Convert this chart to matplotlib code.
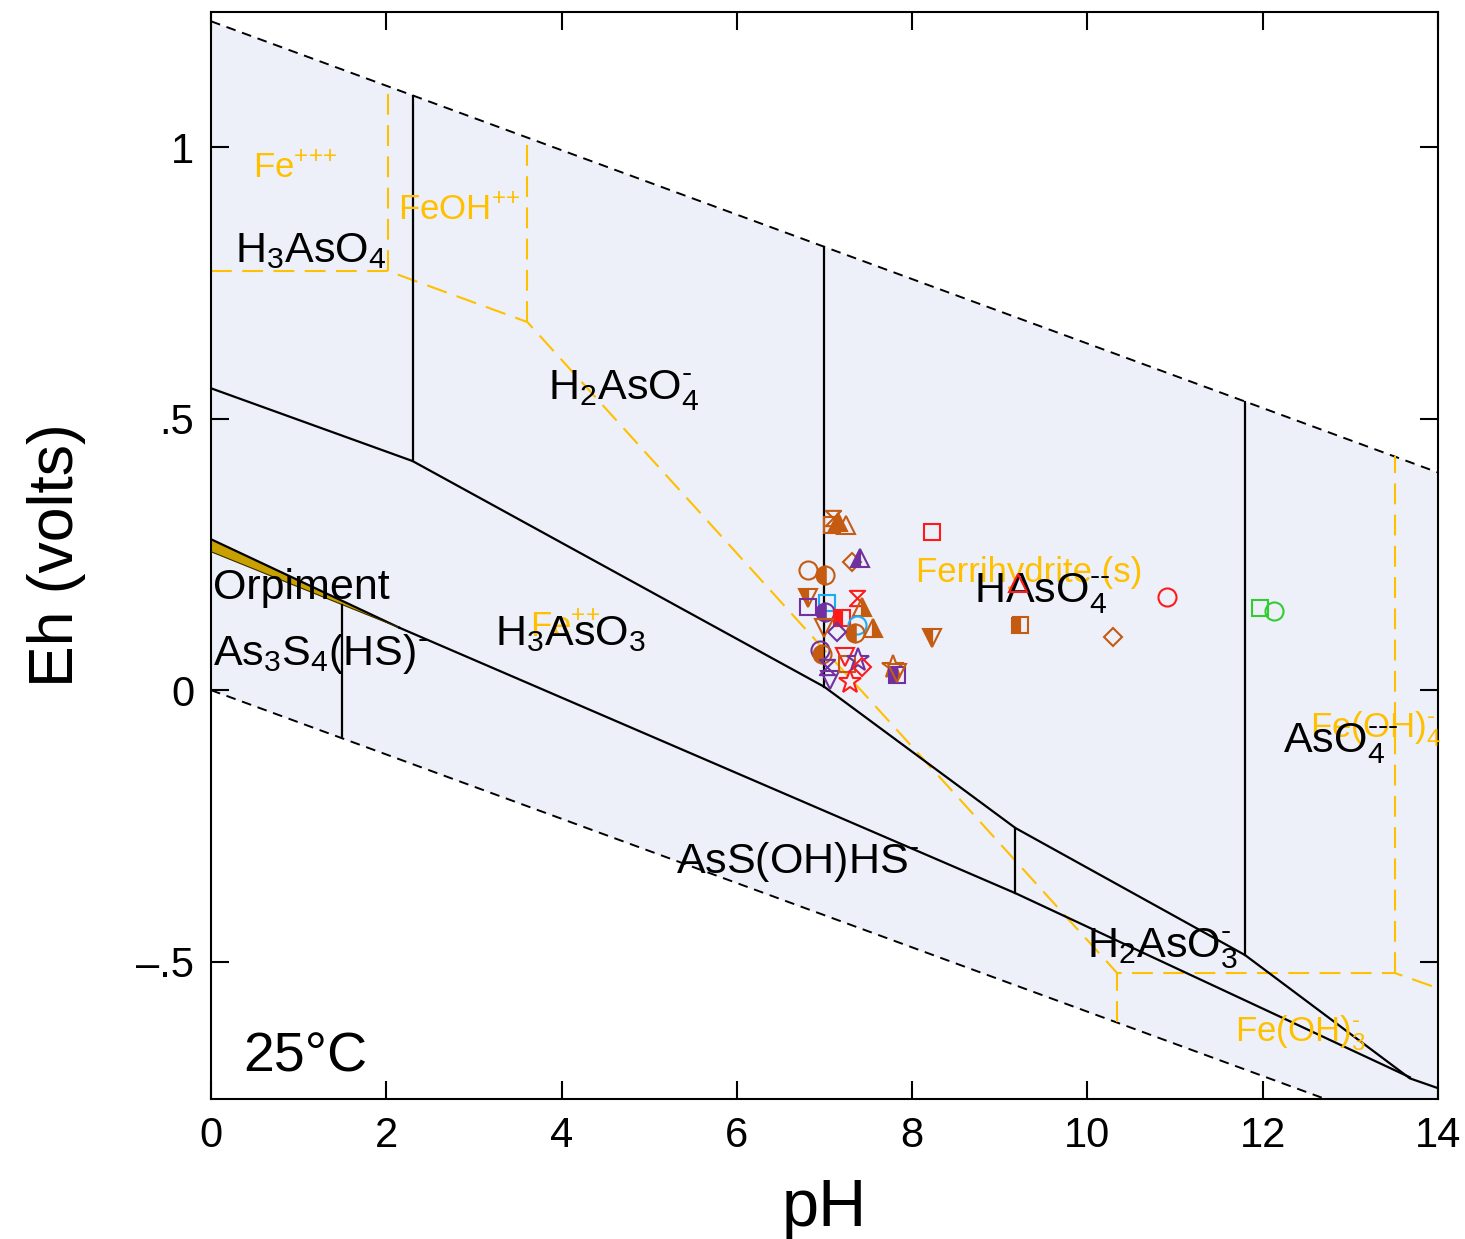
import numpy as np
import matplotlib.pyplot as plt
from matplotlib.path import Path

plt.rcParams['font.family'] = ['Liberation Sans', 'DejaVu Sans']

# ---- diagram boundaries (pH, Eh in volts) ----
water_top_ph = [0, 14]
water_top_eh = [1.232, 0.401]
water_bot_ph = [0, 14]
water_bot_eh = [0.0, -0.829]

# As(V) / As(III) boundary
asv_ph = [0, 2.30, 7.00, 9.18, 11.80, 13.68, 14.0]
asv_eh = [0.556, 0.422, 0.006, -0.254, -0.488, -0.715, -0.733]
# As(III) / sulfide boundary
sulf_ph = [2.15, 9.18, 13.68]
sulf_eh = [0.115, -0.374, -0.713]
# Orpiment wedge
orp_ph = [0, 2.15]
orp_top_eh = [0.278, 0.115]
orp_bot_eh = [0.255, 0.115]
# vertical arsenic boundaries: (pH, Eh low, Eh high)
as_vert = [(2.30, 0.422, 1.094), (7.00, 0.006, 0.816),
           (11.80, -0.488, 0.531), (9.18, -0.374, -0.254),
           (1.50, -0.089, 0.157)]

# iron boundaries (dashed gold)
fe_ph = [0, 2.02, 3.61, 10.34, 13.51, 14.0]
fe_eh = [0.772, 0.772, 0.678, -0.521, -0.521, -0.549]
fe_vert = [(2.02, 0.772, 1.110), (3.61, 0.678, 1.016),
           (10.34, -0.612, -0.521), (13.51, -0.521, 0.431)]

# ---- sample points ----
sample_ph = [7.10, 7.09, 7.15, 7.25, 7.31, 7.41, 6.81, 7.01, 6.81, 6.81,
             7.03, 7.01, 7.20, 7.37, 7.43, 7.37, 7.35, 7.55, 7.14, 7.00,
             6.95, 6.97, 7.03, 7.06, 7.23, 7.26, 7.38, 7.43, 7.29, 7.78,
             7.83, 7.83, 8.23, 8.23, 9.21, 9.23, 10.29, 10.91, 11.97, 12.13]
sample_eh = [0.317, 0.304, 0.309, 0.304, 0.236, 0.243, 0.221, 0.212, 0.169, 0.153,
             0.160, 0.144, 0.133, 0.169, 0.153, 0.120, 0.105, 0.114, 0.107, 0.114,
             0.074, 0.066, 0.042, 0.018, 0.061, 0.048, 0.055, 0.042, 0.015, 0.042,
             0.028, 0.031, 0.291, 0.096, 0.197, 0.120, 0.098, 0.171, 0.151, 0.145]
sample_kind = ['br_hg', 'br_sq', 'br_tri_f', 'br_tri', 'br_dia', 'pu_tri_h', 'br_ci', 'br_ci_h',
               'br_dtri_h', 'pu_sq', 'cy_sq', 'pu_ci_h', 'rd_sq_h', 'rd_hg', 'br_tri_r',
               'cy_ci', 'br_ci_h', 'br_tri_r', 'pu_dia', 'br_dtri',
               'pu_ci', 'br_ci_h', 'pu_hg', 'pu_dtri', 'rd_dtri', 'br_sq', 'pu_star',
               'rd_dia', 'rd_star', 'br_star', 'pu_sq_h', 'br_dtri', 'rd_sq', 'br_dtri_h',
               'rd_tri', 'br_sq_h', 'br_dia', 'rd_ci', 'gr_sq', 'gr_ci']

BR, RD, PU, CY, GR = '#c55a11', '#ff1a1a', '#7030a0', '#1eaaf0', '#33cc33'
GOLD = '#ffc000'
hourglass = Path([(-1, 1), (1, 1), (-1, -1), (1, -1), (-1, 1)],
                 [Path.MOVETO, Path.LINETO, Path.LINETO, Path.LINETO, Path.CLOSEPOLY])
# marker, colour, fill, size
styles = {
    'br_hg': (hourglass, BR, 'none', 11), 'rd_hg': (hourglass, RD, 'none', 11),
    'pu_hg': (hourglass, PU, 'none', 11),
    'br_sq': ('s', BR, 'none', 11), 'pu_sq': ('s', PU, 'none', 11),
    'cy_sq': ('s', CY, 'none', 11), 'rd_sq': ('s', RD, 'none', 11),
    'gr_sq': ('s', GR, 'none', 11),
    'rd_sq_h': ('s', RD, 'left', 11), 'pu_sq_h': ('s', PU, 'left', 11),
    'br_sq_h': ('s', BR, 'left', 11),
    'br_tri': ('^', BR, 'none', 13), 'rd_tri': ('^', RD, 'none', 13),
    'br_tri_f': ('^', BR, 'full', 13), 'br_tri_r': ('^', BR, 'right', 13),
    'pu_tri_h': ('^', PU, 'left', 13),
    'br_dtri': ('v', BR, 'none', 13), 'pu_dtri': ('v', PU, 'none', 13),
    'rd_dtri': ('v', RD, 'none', 13), 'br_dtri_h': ('v', BR, 'left', 13),
    'br_dia': ('D', BR, 'none', 9.5), 'pu_dia': ('D', PU, 'none', 9.5),
    'rd_dia': ('D', RD, 'none', 9.5),
    'br_ci': ('o', BR, 'none', 13), 'pu_ci': ('o', PU, 'none', 13),
    'cy_ci': ('o', CY, 'none', 13), 'rd_ci': ('o', RD, 'none', 13),
    'gr_ci': ('o', GR, 'none', 13),
    'br_ci_h': ('o', BR, 'left', 13), 'pu_ci_h': ('o', PU, 'left', 13),
    'br_star': ('*', BR, 'none', 17), 'pu_star': ('*', PU, 'none', 17),
    'rd_star': ('*', RD, 'none', 17),
}

fig = plt.figure(figsize=(14.65, 12.39), dpi=100)
ax = fig.add_axes([0.1440, 0.1130, 0.8375, 0.8773])

# stability field of water
ax.fill_between(water_top_ph, water_bot_eh, water_top_eh, color='#edf0f8', lw=0, zorder=0)
ax.plot(water_top_ph, water_top_eh, 'k', lw=1.4, ls=(0, (5, 3.5)), zorder=2)
ax.plot(water_bot_ph, water_bot_eh, 'k', lw=1.4, ls=(0, (5, 3.5)), zorder=2)

# iron (gold dashed)
ax.plot(fe_ph, fe_eh, color=GOLD, lw=1.5, ls=(0, (10, 5)), zorder=2)
for p, lo, hi in fe_vert:
    ax.plot([p, p], [lo, hi], color=GOLD, lw=1.5, ls=(0, (10, 5)), zorder=2)

# arsenic (black solid)
ax.fill_between(orp_ph, orp_bot_eh, orp_top_eh, color='#c8a000', lw=0, zorder=2)
ax.plot(orp_ph, orp_top_eh, 'k', lw=1.6, zorder=3)
ax.plot(orp_ph, orp_bot_eh, color='#3a3000', lw=0.8, zorder=3)
ax.plot(asv_ph, asv_eh, 'k', lw=1.6, zorder=3)
ax.plot(sulf_ph, sulf_eh, 'k', lw=1.6, zorder=3)
for p, lo, hi in as_vert:
    ax.plot([p, p], [lo, hi], 'k', lw=1.6, zorder=3)

HY = '\u2010'  # short dash used for the charges
# labels: iron species (gold) under arsenic species (black)
fe_labels = [(0.48, 0.943, r'Fe$\mathregular{^{{+}{+}{+}}}$'),
             (2.13, 0.866, r'FeOH$\mathregular{^{{+}{+}}}$'),
             (8.05, 0.199, 'Ferrihydrite (s)'),
             (3.64, 0.098, r'Fe$\mathregular{^{{+}{+}}}$'),
             (12.54, -0.088, r'Fe(OH)$\mathregular{_4^{%s}}$' % HY),
             (11.68, -0.648, r'Fe(OH)$\mathregular{_3^{%s}}$' % HY)]
for p, e, s in fe_labels:
    ax.text(p, e, s, color=GOLD, fontsize=25, ha='left', va='baseline', zorder=4)

as_labels = [(0.27, 0.788, r'H$\mathregular{_3}$AsO$\mathregular{_4}$'),
             (3.85, 0.536, r'H$\mathregular{_2}$AsO$\mathregular{_4^{%s}}$' % HY),
             (8.71, 0.162, r'HAsO$\mathregular{_4^{%s}}$' % (HY * 2)),
             (0.02, 0.168, 'Orpiment'),
             (0.02, 0.046, r'As$\mathregular{_3}$S$\mathregular{_4}$(HS)$\mathregular{^{%s}}$' % HY),
             (3.24, 0.083, r'H$\mathregular{_3}$AsO$\mathregular{_3}$'),
             (5.31, -0.337, r'AsS(OH)HS$\mathregular{^{%s}}$' % HY),
             (10.0, -0.492, r'H$\mathregular{_2}$AsO$\mathregular{_3^{%s}}$' % HY),
             (12.23, -0.114, r'AsO$\mathregular{_4^{%s}}$' % (HY * 3))]
for p, e, s in as_labels:
    ax.text(p, e, s, color='black', fontsize=31, ha='left', va='baseline', zorder=5)
ax.text(0.37, -0.703, '25°C', color='black', fontsize=40, ha='left', va='baseline', zorder=5)

# samples
for p, e, k in zip(sample_ph, sample_eh, sample_kind):
    m, c, f, ms = styles[k]
    if f == 'none':
        ax.plot(p, e, marker=m, ms=ms, mec=c, mfc='none', mew=1.5, ls='none', zorder=6)
    else:
        ax.plot(p, e, marker=m, ms=ms, mec=c, mfc=c, mew=1.5, fillstyle=f,
                markerfacecoloralt='none', ls='none', zorder=6)

ax.set_xlim(0, 14)
ax.set_ylim(-0.753, 1.249)
ax.set_xticks([0, 2, 4, 6, 8, 10, 12, 14])
ax.set_yticks([-0.5, 0, 0.5, 1])
ax.set_yticklabels(['\u2013.5', '0', '.5', '1'])
ax.tick_params(direction='in', length=13, width=1.5, top=True, right=True,
               labelsize=30, pad=12)
for sp in ax.spines.values():
    sp.set_linewidth(1.5)
ax.set_xlabel('pH', fontsize=48, labelpad=16)
ax.set_ylabel('Eh (volts)', fontsize=45, labelpad=36)

fig.savefig('out.png', dpi=100)
